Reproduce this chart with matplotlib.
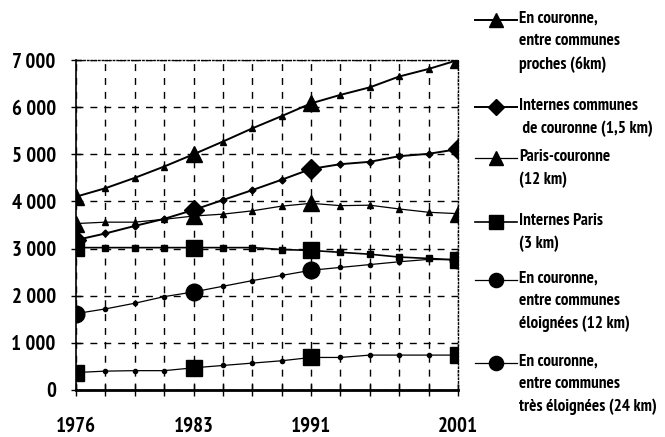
import matplotlib
matplotlib.use("Agg")
import matplotlib.pyplot as plt
from matplotlib.lines import Line2D
import numpy as np

plt.rcParams['font.family'] = ['PT Sans Narrow', 'Archivo Narrow', 'DejaVu Sans']
plt.rcParams['font.weight'] = 'bold'

# 14 equally spaced yearly points, labelled only at 1976, 1983, 1991, 2001
n_points = 14
year_ticks = [0, 4, 8, 13]
year_labels = ['1976', '1983', '1991', '2001']

proches_6km = [4100, 4280, 4500, 4740, 5000, 5270, 5550, 5810, 6080, 6260,
               6420, 6650, 6810, 7000]
couronne_1_5km = [3180, 3320, 3480, 3630, 3820, 4030, 4240, 4460, 4690, 4790,
                  4840, 4960, 5010, 5110]
paris_couronne_12km = [3530, 3560, 3560, 3620, 3690, 3730, 3800, 3900, 3960,
                       3910, 3920, 3840, 3770, 3740]
internes_paris_3km = [3020, 3020, 3020, 3020, 3020, 3020, 3020, 2980, 2960,
                      2920, 2880, 2820, 2790, 2760]
eloignees_12km = [1620, 1720, 1840, 1980, 2080, 2200, 2320, 2430, 2540, 2600,
                  2660, 2720, 2770, 2760]
tres_eloignees_24km = [370, 400, 410, 410, 470, 520, 570, 620, 690, 690,
                       740, 740, 740, 740]

legend_labels = [
    "En couronne,\nentre communes\nproches (6km)",
    "Internes communes\n de couronne (1,5 km)",
    "Paris-couronne\n(12 km)",
    "Internes Paris\n(3 km)",
    "En couronne,\nentre communes\néloignées (12 km)",
    "En couronne,\nentre communes\ntrès éloignées (24 km)",
]

fig = plt.figure(figsize=(6.65, 4.37), dpi=100)
ax = fig.add_axes([0.1143, 0.1076, 0.5744, 0.7551])

x = np.arange(n_points)
small = [i for i in range(n_points) if i not in year_ticks]

# (data, big marker, small marker, big size, small size, line width, legend marker)
series = [
    (proches_6km, '^', '^', 12, 4, 1.4, '^'),
    (couronne_1_5km, 'D', 'D', 10, 3.5, 1.4, 'D'),
    (paris_couronne_12km, '^', '^', 12, 4, 0.9, '^'),
    (internes_paris_3km, 's', 's', 12, 4, 1.2, 's'),
    (eloignees_12km, 'o', 'o', 12, 3, 0.9, 'o'),
    (tres_eloignees_24km, 's', 'o', 12, 3, 0.9, 'o'),
]

for data, big, sm, bsize, ssize, lw, _ in series:
    ax.plot(x, data, color='black', lw=lw, marker=sm, ms=ssize,
            markevery=small, zorder=3)
    ax.plot(x, data, color='black', lw=0, marker=big, ms=bsize,
            markevery=year_ticks, zorder=4)

ax.set_xlim(0, n_points - 1)
ax.set_ylim(0, 7000)
ax.set_xticks(x)
ax.set_xticklabels([year_labels[year_ticks.index(i)] if i in year_ticks else ''
                    for i in x])
ax.set_yticks(np.arange(0, 7001, 1000))
ax.set_yticklabels([f"{v:,}".replace(',', ' ') for v in range(0, 7001, 1000)])

ax.grid(True, color='black', ls=(0, (5, 5)), lw=1.0, zorder=1)
ax.tick_params(axis='both', direction='inout', width=1, labelsize=15)
ax.tick_params(axis='x', length=9, pad=15)
ax.tick_params(axis='y', length=7, pad=11)

ax.spines['left'].set_linewidth(1.2)
ax.spines['bottom'].set_linewidth(2.0)
for s in ['top', 'right']:
    ax.spines[s].set_linestyle(':')
    ax.spines[s].set_linewidth(1.0)

# manual legend on the right
W, H = 665.0, 437.0
entry_tops = [20, 107, 158, 222, 280, 363]
for (data, big, sm, bsize, ssize, lw, lmark), label, ytop in zip(
        series, legend_labels, entry_tops):
    yf = 1 - ytop / H
    fig.add_artist(Line2D([475 / W, 517 / W], [yf, yf], color='black',
                          lw=lw, transform=fig.transFigure))
    fig.add_artist(Line2D([496 / W], [yf], marker=lmark, ms=bsize * 0.85,
                          color='black', transform=fig.transFigure))
    fig.text(519 / W, yf + 9 / H, label, ha='left', va='top', fontsize=12.3,
             linespacing=1.52, transform=fig.transFigure)

fig.savefig('out.png', dpi=100)
